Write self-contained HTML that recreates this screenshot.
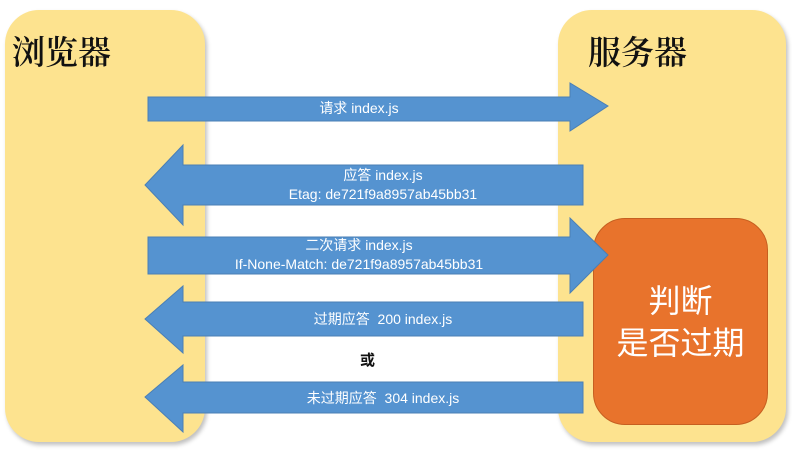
<!DOCTYPE html>
<html><head><meta charset="utf-8"><style>
body{margin:0;width:792px;height:453px;background:#fff;overflow:hidden;position:relative;font-family:"Liberation Sans","Noto Sans CJK SC",sans-serif}
.p{position:absolute;background:#fde38f;border-radius:34px;box-shadow:2px 3px 4px rgba(0,0,0,.25)}
.t{position:absolute;font-size:33px;color:#111;font-family:"Noto Serif CJK SC","Noto Sans CJK SC",serif;font-weight:600}
.l{position:absolute;color:#fff;font-size:14px;text-align:center;line-height:19px}
</style></head><body>
<div class="p" style="left:5px;top:10px;width:200px;height:432px"></div>
<div class="p" style="left:558px;top:10px;width:228px;height:432px"></div>
<div class="t" style="left:12px;top:27px">浏览器</div>
<div class="t" style="left:588px;top:27px">服务器</div>
<div style="position:absolute;left:593px;top:218px;width:175px;height:207px;background:#e8732c;border-radius:32px;border:1px solid #c65f20;box-sizing:border-box"></div>
<div style="position:absolute;left:593px;top:280px;width:175px;text-align:center;color:#fff;font-size:32px;line-height:42px">判断<br>是否过期</div>
<svg width="792" height="453" style="position:absolute;left:0;top:0">
<g fill="#5593d0" stroke="#4a7fb5" stroke-width="1">
<polygon points="148,97 570,97 570,83 608,106 570,131 570,121 148,121"/>
<polygon points="583,165 183,165 183,145 145,185 183,225 183,205 583,205"/>
<polygon points="148,237 570,237 570,218 608,255 570,293 570,274 148,274"/>
<polygon points="583,302 183,302 183,286 145,319 183,353 183,336 583,336"/>
<polygon points="583,382 183,382 183,365 145,397 183,432 183,413 583,413"/>
</g></svg>
<div class="l" style="left:148px;top:99px;width:422px">请求 index.js</div>
<div class="l" style="left:183px;top:166px;width:400px">应答 index.js<br>Etag: de721f9a8957ab45bb31</div>
<div class="l" style="left:148px;top:236px;width:422px">二次请求 index.js<br>If-None-Match: de721f9a8957ab45bb31</div>
<div class="l" style="left:183px;top:310px;width:400px">过期应答&nbsp; 200 index.js</div>
<div class="l" style="left:183px;top:389px;width:400px">未过期应答&nbsp; 304 index.js</div>
<div style="position:absolute;left:360px;top:349px;font-size:15px;font-weight:bold;color:#111">或</div>
</body></html>
